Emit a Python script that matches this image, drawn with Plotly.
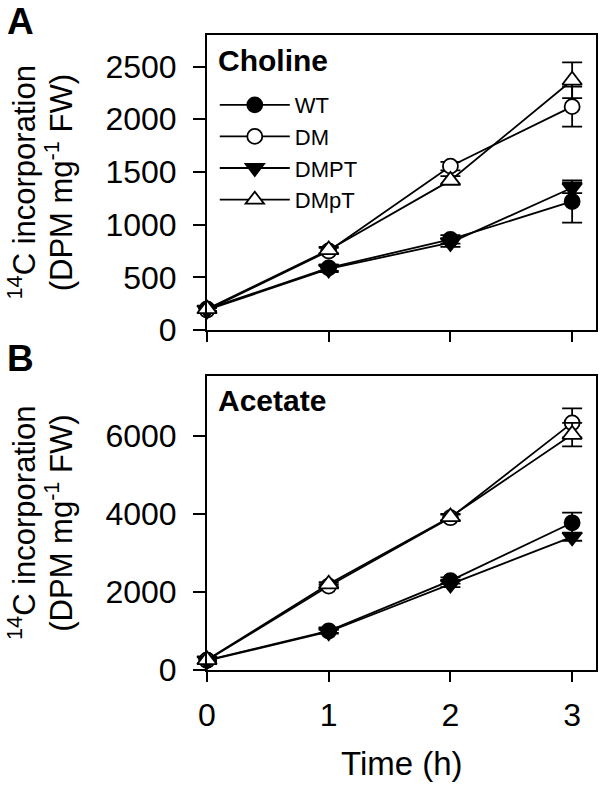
import plotly.graph_objects as go

time_h = [0, 1, 2, 3]
series_names = ["WT", "DM", "DMPT", "DMpT"]

# Panel A: Choline
choline_WT = [200, 590, 860, 1220]
choline_WT_err = [20, 30, 40, 200]
choline_DM = [190, 750, 1555, 2120]
choline_DM_err = [20, 30, 40, 190]
choline_DMPT = [190, 580, 830, 1350]
choline_DMPT_err = [20, 30, 40, 50]
choline_DMpT = [200, 760, 1420, 2370]
choline_DMpT_err = [20, 30, 40, 170]

# Panel B: Acetate
acetate_WT = [250, 1000, 2290, 3770]
acetate_WT_err = [30, 50, 80, 260]
acetate_DM = [250, 2150, 3900, 6330]
acetate_DM_err = [30, 50, 80, 370]
acetate_DMPT = [240, 980, 2200, 3410]
acetate_DMPT_err = [30, 50, 80, 100]
acetate_DMpT = [260, 2200, 3920, 6030]
acetate_DMpT_err = [30, 50, 80, 300]

FONT = "Liberation Sans, Arial, sans-serif"

styles = {
    "WT": dict(symbol="circle", color="black", size=15),
    "DM": dict(symbol="circle", color="white", size=15),
    "DMPT": dict(symbol="triangle-down", color="black", size=17),
    "DMpT": dict(symbol="triangle-up", color="white", size=17),
}

panelA = {"WT": (choline_WT, choline_WT_err), "DM": (choline_DM, choline_DM_err),
          "DMPT": (choline_DMPT, choline_DMPT_err), "DMpT": (choline_DMpT, choline_DMpT_err)}
panelB = {"WT": (acetate_WT, acetate_WT_err), "DM": (acetate_DM, acetate_DM_err),
          "DMPT": (acetate_DMPT, acetate_DMPT_err), "DMpT": (acetate_DMpT, acetate_DMpT_err)}

fig = go.Figure()

for panel, xa, ya, show in [(panelA, "x", "y", True), (panelB, "x2", "y2", False)]:
    for name in series_names:
        vals, err = panel[name]
        st = styles[name]
        fig.add_trace(go.Scatter(
            x=time_h, y=vals, name=name, xaxis=xa, yaxis=ya,
            mode="lines+markers", showlegend=show, cliponaxis=False,
            line=dict(color="black", width=1.8),
            marker=dict(symbol=st["symbol"], size=st["size"], color=st["color"],
                        line=dict(color="black", width=1.8)),
            error_y=dict(type="data", array=err, visible=True, color="black",
                         thickness=1.8, width=10),
        ))

axis_common = dict(showgrid=False, zeroline=False, showline=True, linecolor="black",
                   linewidth=2, mirror=True, ticks="outside", tickcolor="black",
                   tickwidth=2, tickfont=dict(family=FONT, size=32, color="black"))

fig.update_layout(
    width=603, height=786,
    margin=dict(l=207, r=5, t=35, b=116),
    paper_bgcolor="white", plot_bgcolor="white",
    font=dict(family=FONT, color="black"),
    xaxis=dict(domain=[0, 1], anchor="y", range=[0, 3.196], tickvals=time_h,
               showticklabels=False, ticklen=10, **axis_common),
    yaxis=dict(domain=[0.5354, 1], anchor="x", range=[0, 2800],
               tickvals=[0, 500, 1000, 1500, 2000, 2500], ticklen=12,
               ticklabelstandoff=10, **axis_common),
    xaxis2=dict(domain=[0, 1], anchor="y2", range=[0, 3.196], tickvals=time_h,
                ticklen=10, ticklabelstandoff=6, **axis_common),
    yaxis2=dict(domain=[0, 0.463], anchor="x2", range=[0, 7530],
                tickvals=[0, 2000, 4000, 6000], ticklen=12,
                ticklabelstandoff=10, **axis_common),
    legend=dict(x=0.02, y=0.9228, xanchor="left", yanchor="top",
                bgcolor="rgba(0,0,0,0)", itemwidth=70, tracegroupgap=0,
                font=dict(family=FONT, size=22, color="black")),
)

ann = []
ann.append(dict(text="<b>A</b>", xref="paper", yref="paper", x=(4 - 207) / 391, y=1.022,
                xanchor="left", yanchor="middle", showarrow=False,
                font=dict(family=FONT, size=37, color="black")))
ann.append(dict(text="<b>B</b>", xref="paper", yref="paper", x=(4 - 207) / 391, y=0.491,
                xanchor="left", yanchor="middle", showarrow=False,
                font=dict(family=FONT, size=37, color="black")))
ann.append(dict(text="<b>Choline</b>", xref="paper", yref="paper", x=0.024, y=0.9606,
                xanchor="left", yanchor="middle", showarrow=False,
                font=dict(family=FONT, size=30, color="black")))
ann.append(dict(text="<b>Acetate</b>", xref="paper", yref="paper", x=0.024, y=0.425,
                xanchor="left", yanchor="middle", showarrow=False,
                font=dict(family=FONT, size=30, color="black")))
for yc in [0.7677, 0.2315]:
    ann.append(dict(text="<sup>14</sup>C incorporation", xref="paper", yref="paper",
                    x=(21 - 207) / 391, y=yc, xanchor="center", yanchor="middle",
                    textangle=-90, showarrow=False,
                    font=dict(family=FONT, size=31, color="black")))
    ann.append(dict(text="(DPM mg<sup>-1</sup> FW)", xref="paper", yref="paper",
                    x=(58 - 207) / 391, y=yc, xanchor="center", yanchor="middle",
                    textangle=-90, showarrow=False,
                    font=dict(family=FONT, size=31, color="black")))
ann.append(dict(text="Time (h)", xref="paper", yref="paper", x=0.5, y=(670 - 763) / 635,
                xanchor="center", yanchor="middle", showarrow=False,
                font=dict(family=FONT, size=33, color="black")))
fig.update_layout(annotations=ann)

fig.write_html("out.html", config={"displayModeBar": False},
               post_script="document.body.style.margin='0';document.body.style.overflow='hidden';")
